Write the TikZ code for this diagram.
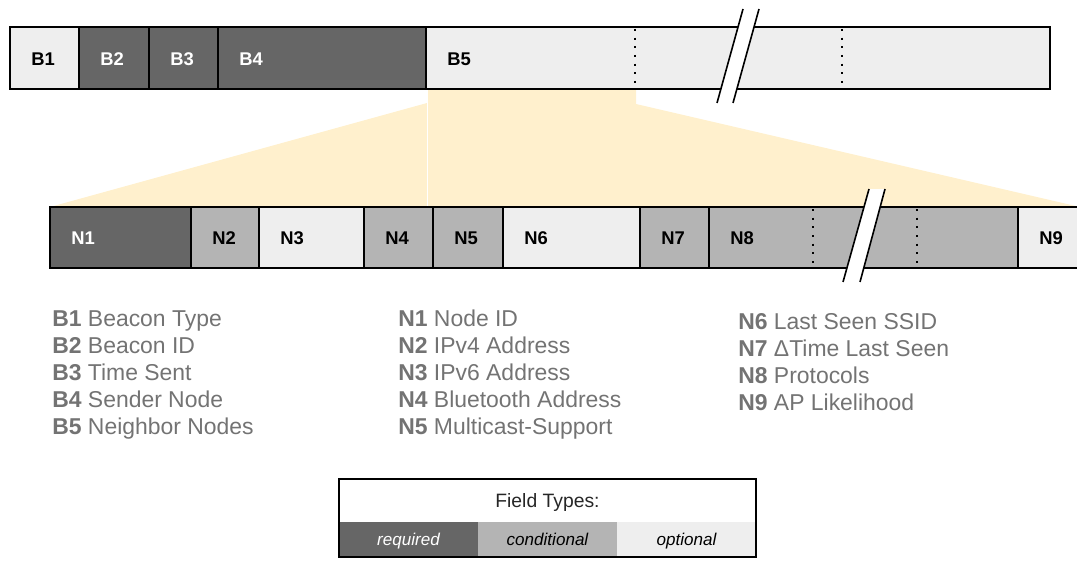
\documentclass[tikz,border=0pt]{standalone}
\usepackage{fontspec}
\setmainfont{Liberation Sans}
\definecolor{fieldReq}{HTML}{666666}
\definecolor{fieldCond}{HTML}{B4B4B4}
\definecolor{fieldOpt}{HTML}{EEEEEE}
\definecolor{zoomFan}{HTML}{FFF0CD}
\definecolor{legendGray}{HTML}{737373}
\begin{document}
\begin{tikzpicture}[x=0.75pt, y=-0.75pt]
% Beacon frame layout, coordinates given in pixels
\providecommand{\barLineWidth}{1.5pt}
\providecommand{\breakLineWidth}{1.2pt}
\tikzset{
  fieldlabel/.style={anchor=base west, inner sep=0pt, font=\bfseries\fontsize{13.8}{16}\selectfont},
  legendline/.style={anchor=base west, inner sep=0pt, text=legendGray, font=\fontsize{17.2}{20}\selectfont},
  typelabel/.style={anchor=base, inner sep=0pt, font=\itshape\fontsize{12.8}{15}\selectfont},
  dotsep/.style={line width=1.5pt, dash pattern=on 1.5pt off 5pt}
}
\useasboundingbox (0,0) rectangle (1077,560);
\clip (0,0) rectangle (1077,560);
% Zoom fan from B5 down to the neighbor entry
\fill[zoomFan] (50,207) -- (427,103) -- (427,89) -- (636,89) -- (636,104) -- (1080,207) -- cycle;
\draw[white, line width=0.6pt] (427,89) -- (427,207);
% Beacon fields
\foreach \l/\r/\c/\t/\n in {10/79/fieldOpt/black/B1, 79/149/fieldReq/white/B2,
    149/218/fieldReq/white/B3, 218/426/fieldReq/white/B4, 426/1050/fieldOpt/black/B5}{
  \fill[\c] (\l,27) rectangle (\r,89);
  \node[fieldlabel, text=\t] (\n) at (\l+21,65) {\n};
  \draw[line width=\barLineWidth] (\l,27) -- (\l,89);
}
\draw[line width=\barLineWidth] (10,27) rectangle (1050,89);
\draw[dotsep] (635,29) -- (635,89);
\draw[dotsep] (842,29) -- (842,89);
% Neighbor entry fields
\foreach \l/\r/\c/\t/\n in {50/191/fieldReq/white/N1, 191/259/fieldCond/black/N2,
    259/364/fieldOpt/black/N3, 364/433/fieldCond/black/N4, 433/503/fieldCond/black/N5,
    503/640/fieldOpt/black/N6, 640/709/fieldCond/black/N7, 709/1018/fieldCond/black/N8,
    1018/1095/fieldOpt/black/N9}{
  \fill[\c] (\l,207) rectangle (\r,268);
  \node[fieldlabel, text=\t] (\n) at (\l+21,244.5) {\n};
  \draw[line width=\barLineWidth] (\l,207) -- (\l,268);
}
\draw[line width=\barLineWidth] (50,207) rectangle (1095,268);
\draw[dotsep] (813,209) -- (813,268);
\draw[dotsep] (917,209) -- (917,268);
% Breaks
\fill[white] (717,103) -- (743,9) -- (759,9) -- (733,103) -- cycle;
\draw[line width=\breakLineWidth] (717,103) -- (743,9);
\draw[line width=\breakLineWidth] (733,103) -- (759,9);
\fill[white] (843,282) -- (869,189) -- (885,189) -- (860,282) -- cycle;
\draw[line width=\breakLineWidth] (843,282) -- (869,189);
\draw[line width=\breakLineWidth] (860,282) -- (885,189);
% Legend
\node[legendline] (lb1) at (52,326) {\textbf{B1} Beacon Type};
\node[legendline] (lb2) at (52,353) {\textbf{B2} Beacon ID};
\node[legendline] (lb3) at (52,380) {\textbf{B3} Time Sent};
\node[legendline] (lb4) at (52,407) {\textbf{B4} Sender Node};
\node[legendline] (lb5) at (52,434) {\textbf{B5} Neighbor Nodes};
\node[legendline] (ln1) at (398,326) {\textbf{N1} Node ID};
\node[legendline] (ln2) at (398,353) {\textbf{N2} IPv4 Address};
\node[legendline] (ln3) at (398,380) {\textbf{N3} IPv6 Address};
\node[legendline] (ln4) at (398,407) {\textbf{N4} Bluetooth Address};
\node[legendline] (ln5) at (398,434) {\textbf{N5} Multicast-Support};
\node[legendline] (ln6) at (738,329) {\textbf{N6} Last Seen SSID};
\node[legendline] (ln7) at (738,356) {\textbf{N7} ΔTime Last Seen};
\node[legendline] (ln8) at (738,383) {\textbf{N8} Protocols};
\node[legendline] (ln9) at (738,410) {\textbf{N9} AP Likelihood};
% Field types key
\fill[fieldReq] (339,522) rectangle (478,557);
\fill[fieldCond] (478,522) rectangle (617,557);
\fill[fieldOpt] (617,522) rectangle (756,557);
\draw[line width=1.2pt] (339,479) rectangle (756,557);
\node[anchor=base, inner sep=0pt, text=black!85, font=\fontsize{14.5}{17}\selectfont] (keytitle) at (547.5,507) {Field Types:};
\node[typelabel, text=white] (keyreq) at (408.5,545) {required};
\node[typelabel] (keycond) at (547.5,545) {conditional};
\node[typelabel] (keyopt) at (686.5,545) {optional};
\end{tikzpicture}
\end{document}
